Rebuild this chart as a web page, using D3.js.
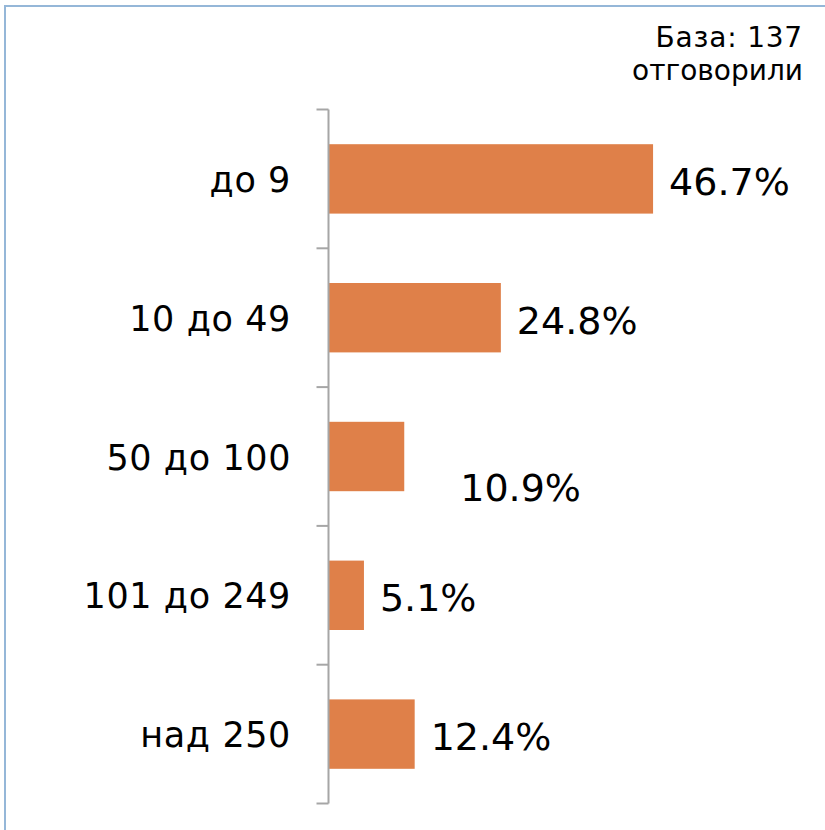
<!DOCTYPE html>
<html>
<head>
<meta charset="utf-8">
<script src="https://cdn.jsdelivr.net/npm/d3@7"></script>
<style>
  body { margin: 0; background: #fff; }
  svg { display: block; font-family: "DejaVu Sans", Verdana, sans-serif; }
</style>
</head>
<body>
<svg id="chart"></svg>
<script>
// data
const categories = ["до 9", "10 до 49", "50 до 100", "101 до 249", "над 250"];
const values = [46.7, 24.8, 10.9, 5.1, 12.4];
const valueLabels = ["46.7%", "24.8%", "10.9%", "5.1%", "12.4%"];
const baseNote = ["База: 137", "отговорили"];

const W = 825, H = 830;
const svg = d3.select("#chart").attr("width", W).attr("height", H);

// frame
svg.append("rect")
    .attr("x", 5).attr("y", 6)
    .attr("width", W + 10).attr("height", H + 10)
    .attr("fill", "none")
    .attr("stroke", "#95b7d8")
    .attr("stroke-width", 2);

const axisX = 328.5;
const x = d3.scaleLinear().domain([0, 100]).range([axisX, axisX + 695]);
const y = d3.scaleBand()
    .domain(categories)
    .range([109.5, 803.5])
    .paddingInner(0.5)
    .paddingOuter(0.25);

const step = y.step();
const boundaries = categories.map(c => y(c) - step * 0.25);
boundaries.push(y(categories[categories.length - 1]) + y.bandwidth() + step * 0.25);

const data = categories.map((c, i) => ({ cat: c, value: values[i], label: valueLabels[i] }));

// bars
svg.selectAll(".bar")
    .data(data)
    .enter().append("rect")
    .attr("class", "bar")
    .attr("x", x(0))
    .attr("y", d => y(d.cat))
    .attr("width", d => x(d.value) - x(0))
    .attr("height", y.bandwidth())
    .attr("fill", "#df8049");

// axis line + ticks at band boundaries
svg.append("line")
    .attr("x1", axisX).attr("x2", axisX)
    .attr("y1", boundaries[0]).attr("y2", boundaries[boundaries.length - 1])
    .attr("stroke", "#a6a6a6").attr("stroke-width", 2);

svg.selectAll(".tick")
    .data(boundaries)
    .enter().append("line")
    .attr("class", "tick")
    .attr("x1", axisX - 12).attr("x2", axisX)
    .attr("y1", d => d).attr("y2", d => d)
    .attr("stroke", "#a6a6a6").attr("stroke-width", 2);

// category labels
svg.selectAll(".cat")
    .data(data)
    .enter().append("text")
    .attr("class", "cat")
    .attr("x", 291)
    .attr("y", d => y(d.cat) + y.bandwidth() / 2 + 13)
    .attr("text-anchor", "end")
    .attr("font-size", 35)
    .attr("letter-spacing", 0.6)
    .attr("fill", "#000")
    .text(d => d.cat);

// value labels (the 10.9% label sits lower and further right in the original)
const nudge = [[0, 0], [0, 0], [40, 28], [0, 0], [0, 0]];
svg.selectAll(".val")
    .data(data)
    .enter().append("text")
    .attr("class", "val")
    .attr("x", (d, i) => x(d.value) + 16 + nudge[i][0])
    .attr("y", (d, i) => y(d.cat) + y.bandwidth() / 2 + 16 + nudge[i][1])
    .attr("font-size", 38)
    .attr("fill", "#000")
    .text(d => d.label);

// base note
svg.selectAll(".note")
    .data(baseNote)
    .enter().append("text")
    .attr("class", "note")
    .attr("x", 803)
    .attr("y", (d, i) => 47 + i * 33)
    .attr("text-anchor", "end")
    .attr("font-size", 28)
    .attr("letter-spacing", (d, i) => i === 0 ? 0.8 : 0)
    .attr("fill", "#000")
    .text(d => d);
</script>
</body>
</html>
